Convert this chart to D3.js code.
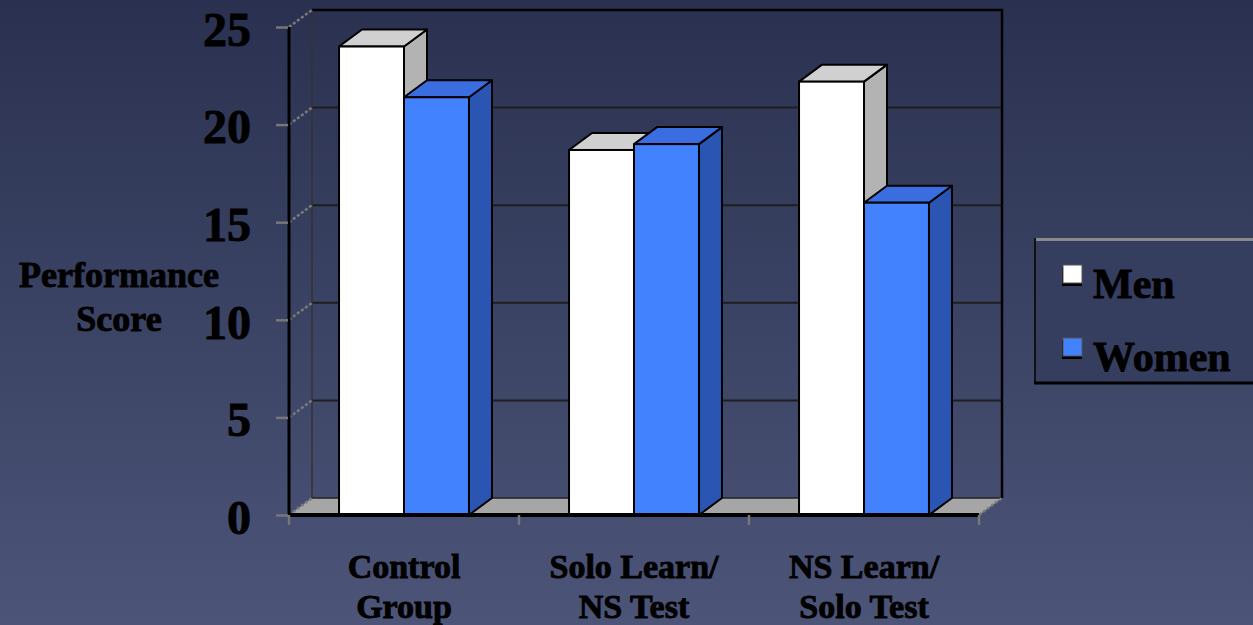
<!DOCTYPE html>
<html>
<head>
<meta charset="utf-8">
<script src="https://cdn.jsdelivr.net/npm/d3@7"></script>
<style>
  html, body { margin: 0; padding: 0; }
  body { width: 1253px; height: 625px; overflow: hidden; }
  svg text { font-family: "Liberation Serif", "Times New Roman", serif; font-weight: bold; fill: #000; stroke: #000; stroke-width: 0.9px; }
</style>
</head>
<body>
<svg id="chart" width="1253" height="625"></svg>
<script>
// Performance scores by condition
const categories = ["Control Group", "Solo Learn/ NS Test", "NS Learn/ Solo Test"];
const categoryLines = [["Control", "Group"], ["Solo Learn/", "NS Test"], ["NS Learn/", "Solo Test"]];
const seriesNames = ["Men", "Women"];
const menScores = [24.0, 18.7, 22.2];
const womenScores = [21.4, 19.0, 16.0];
const yTicks = [0, 5, 10, 15, 20, 25];

const svg = d3.select("#chart");

// background gradient
const defs = svg.append("defs");
const grad = defs.append("linearGradient").attr("id", "bg").attr("x1", 0).attr("y1", 0).attr("x2", 0).attr("y2", 1);
grad.append("stop").attr("offset", "0%").attr("stop-color", "#2a3150");
grad.append("stop").attr("offset", "100%").attr("stop-color", "#4c5578");
svg.append("rect").attr("width", 1253).attr("height", 625).attr("fill", "url(#bg)");

// plot geometry with oblique depth
const DX = 23, DY = -17;
const x = d3.scaleBand().domain(categories).range([289, 979]);
const inner = d3.scaleBand().domain(seriesNames).range([0, x.bandwidth()]).paddingOuter(0.77);
const y = d3.scaleLinear().domain([0, 25]).range([515, 27]);
const x0 = x.range()[0], x1 = x.range()[1];
const yb = y(0), yt = y(25);

const g = svg.append("g");
const pts = a => a.map(p => p.join(",")).join(" ");

// floor
g.append("polygon")
  .attr("points", pts([[x0, yb], [x1, yb], [x1 + DX, yb + DY], [x0 + DX, yb + DY]]))
  .attr("fill", "#a6a6a6");

// back wall gridlines
g.selectAll(".grid").data(yTicks.filter(t => t > 0 && t < 25)).join("line")
  .attr("x1", x0 + DX).attr("x2", x1 + DX)
  .attr("y1", d => y(d) + DY).attr("y2", d => y(d) + DY)
  .attr("stroke", "#1e1e1e").attr("stroke-width", 2);

// floor back edge
g.append("line").attr("x1", x0 + DX).attr("x2", x1 + DX)
  .attr("y1", yb + DY).attr("y2", yb + DY)
  .attr("stroke", "#222").attr("stroke-width", 1.5);

// back wall border (top and right)
g.append("polyline")
  .attr("points", pts([[x0 + DX, yt + DY], [x1 + DX, yt + DY], [x1 + DX, yb + DY]]))
  .attr("fill", "none").attr("stroke", "#000").attr("stroke-width", 2.5);

// left wall: inner vertical edge and diagonal gridlines
g.append("line").attr("x1", x0 + DX).attr("x2", x0 + DX)
  .attr("y1", yt + DY).attr("y2", yb + DY)
  .attr("stroke", "#333").attr("stroke-width", 1.5);
g.selectAll(".diag").data(yTicks).join("line")
  .attr("x1", x0).attr("y1", d => y(d))
  .attr("x2", x0 + DX).attr("y2", d => y(d) + DY)
  .attr("stroke", "#7a7a7a").attr("stroke-width", 2.5).attr("stroke-dasharray", "3,2");

// right floor edge
g.append("line").attr("x1", x1).attr("y1", yb).attr("x2", x1 + DX).attr("y2", yb + DY)
  .attr("stroke", "#7a7a7a").attr("stroke-width", 2.5).attr("stroke-dasharray", "3,2");

// bars
const colors = {
  Men: { front: "#ffffff", side: "#b3b3b3", top: "#d0d0d0" },
  Women: { front: "#4282ff", side: "#2a55b2", top: "#3a6ee0" }
};
const barData = [];
categories.forEach((c, i) => {
  barData.push({ cat: c, s: "Men", v: menScores[i] });
  barData.push({ cat: c, s: "Women", v: womenScores[i] });
});
const bars = g.selectAll(".bar").data(barData).join("g").attr("class", "bar");
bars.each(function (d) {
  const bx0 = x(d.cat) + inner(d.s), bx1 = bx0 + inner.bandwidth();
  const by = y(d.v);
  const sel = d3.select(this);
  const col = colors[d.s];
  sel.append("polygon")
    .attr("points", pts([[bx1, yb], [bx1 + DX, yb + DY], [bx1 + DX, by + DY], [bx1, by]]))
    .attr("fill", col.side).attr("stroke", "#000").attr("stroke-width", 2).attr("stroke-linejoin", "round");
  sel.append("polygon")
    .attr("points", pts([[bx0, by], [bx1, by], [bx1 + DX, by + DY], [bx0 + DX, by + DY]]))
    .attr("fill", col.top).attr("stroke", "#000").attr("stroke-width", 2).attr("stroke-linejoin", "round");
  sel.append("rect")
    .attr("x", bx0).attr("y", by).attr("width", bx1 - bx0).attr("height", yb - by)
    .attr("fill", col.front).attr("stroke", "#000").attr("stroke-width", 2);
});

// front axis lines
g.append("line").attr("x1", x0).attr("x2", x0).attr("y1", yt).attr("y2", yb)
  .attr("stroke", "#000").attr("stroke-width", 3);
g.append("line").attr("x1", x0).attr("x2", x1).attr("y1", yb).attr("y2", yb)
  .attr("stroke", "#000").attr("stroke-width", 4);

// y axis ticks and labels
const yAxis = d3.axisLeft(y).tickValues(yTicks).tickSize(12).tickPadding(25).tickFormat(d3.format("d"));
const ya = svg.append("g").attr("transform", `translate(${x0 - 1},0)`).call(yAxis);
ya.select(".domain").remove();
ya.selectAll(".tick line").attr("stroke", "#777").attr("stroke-width", 2.5);
ya.selectAll(".tick text").attr("font-size", 48).attr("fill", "#000")
  .attr("font-family", "Liberation Serif").attr("font-weight", "bold").attr("dy", "0.38em");

// x axis ticks at category boundaries
const xEdges = categories.map(c => x(c)).concat([x1]);
svg.selectAll(".xtick").data(xEdges).join("line")
  .attr("x1", d => d).attr("x2", d => d).attr("y1", yb).attr("y2", yb + 10)
  .attr("stroke", "#777").attr("stroke-width", 2.5);

// category labels
const xl = svg.selectAll(".xlab").data(categories).join("text")
  .attr("text-anchor", "middle").attr("font-size", 34)
  .attr("transform", d => `translate(${x(d) + x.bandwidth() / 2},0)`);
xl.selectAll("tspan").data((d, i) => categoryLines[i]).join("tspan")
  .attr("x", 0).attr("y", (d, i) => 578 + i * 40).text(d => d);

// y axis title
const yt2 = svg.append("text").attr("text-anchor", "middle").attr("font-size", 36);
yt2.append("tspan").attr("x", 119).attr("y", 287).text("Performance");
yt2.append("tspan").attr("x", 119).attr("y", 331).text("Score");

// legend
const lg = svg.append("g").attr("transform", "translate(1034,238)");
lg.append("rect").attr("x", 0).attr("y", 0).attr("width", 260).attr("height", 146).attr("fill", "#363e60");
lg.append("line").attr("x1", 0).attr("x2", 260).attr("y1", 1.5).attr("y2", 1.5).attr("stroke", "#8a8a8a").attr("stroke-width", 3);
lg.append("line").attr("x1", 1).attr("x2", 1).attr("y1", 0).attr("y2", 146).attr("stroke", "#111").attr("stroke-width", 2);
lg.append("line").attr("x1", 0).attr("x2", 260).attr("y1", 145).attr("y2", 145).attr("stroke", "#000").attr("stroke-width", 3);
const items = lg.selectAll(".li").data(seriesNames).join("g")
  .attr("transform", (d, i) => `translate(29,${27 + i * 73})`);
items.append("rect").attr("x", -1).attr("y", 2).attr("width", 20).attr("height", 19).attr("fill", "#000");
items.append("rect").attr("x", 0).attr("y", 0).attr("width", 19).attr("height", 18)
  .attr("fill", d => colors[d].front).attr("stroke", "#555").attr("stroke-width", 1);
items.append("text").attr("x", 30).attr("y", 33).attr("font-size", 42).text(d => d);
</script>
</body>
</html>
